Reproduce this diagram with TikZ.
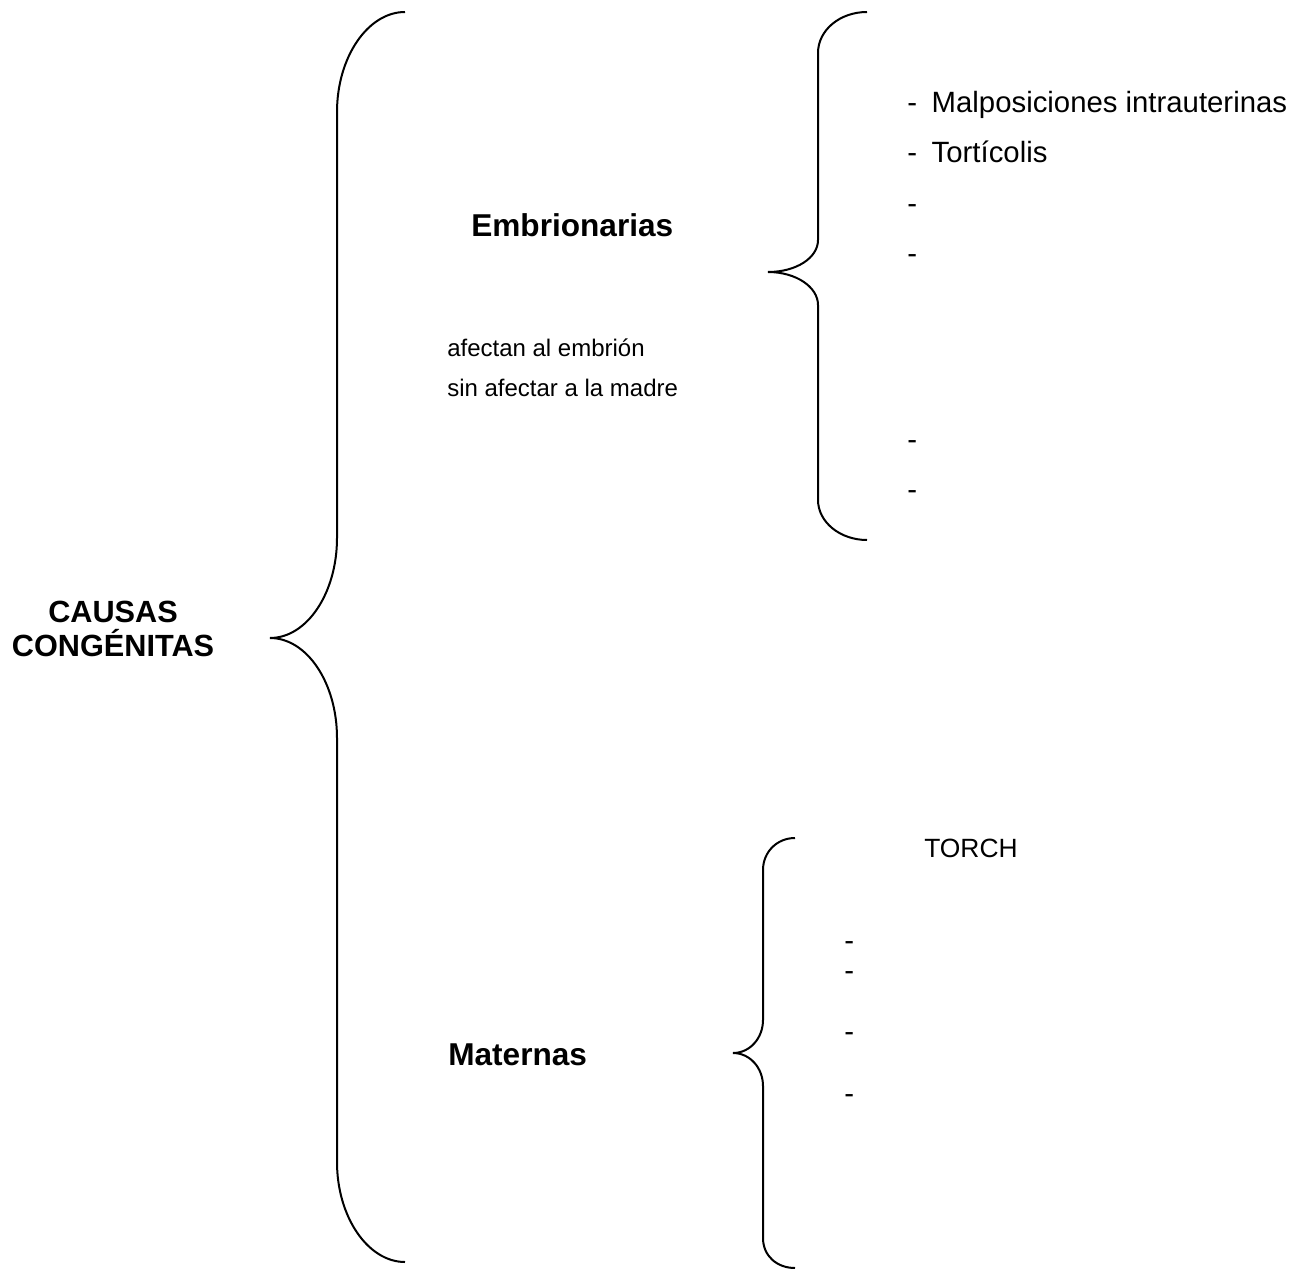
\documentclass[tikz,border=0pt]{standalone}
\usepackage{fontspec}
\setmainfont{Liberation Sans}
\usetikzlibrary{positioning}

\begin{document}
\begin{tikzpicture}[
      x=0.75pt, y=-0.75pt,
      llave/.style={line width=1.5pt},
      raiz/.style={anchor=base, inner sep=0pt, align=center, font=\fontsize{23}{25.5}\selectfont\bfseries},
      titulo/.style={anchor=base west, inner sep=0pt, font=\fontsize{23.7}{28}\selectfont\bfseries},
      item/.style={anchor=base west, inner sep=0pt, font=\fontsize{22}{26}\selectfont},
      nota/.style={anchor=base west, inner sep=0pt, align=left, font=\fontsize{18}{30}\selectfont},
      sigla/.style={anchor=base west, inner sep=0pt, font=\fontsize{19.8}{23}\selectfont}
    ]
    \useasboundingbox (0,0) rectangle (1302,1269);

    % llaves
    \draw[llave] (405,12) .. controls (368,12) and (337,57) .. (337,112) -- (337,538)
      .. controls (337,593) and (307,638) .. (270,638)
      .. controls (307,638) and (337,683) .. (337,738) -- (337,1162)
      .. controls (337,1217) and (368,1262) .. (405,1262);
    \draw[llave] (867,12) .. controls (840,12) and (818,30) .. (818,53) -- (818,240)
      .. controls (818,258) and (796,272) .. (768,272)
      .. controls (796,272) and (818,287) .. (818,305) -- (818,500)
      .. controls (818,522) and (840,540) .. (867,540);
    \draw[llave] (795,838) .. controls (777,838) and (763,852) .. (763,870) -- (763,1020)
      .. controls (763,1038) and (750,1053) .. (733,1053)
      .. controls (750,1053) and (763,1068) .. (763,1086) -- (763,1238)
      .. controls (763,1256) and (777,1268) .. (795,1268);

    \node[raiz] (causas) at (113,656) {CAUSAS\\CONGÉNITAS};

    \node[titulo] (embrio) at (471,237) {Embrionarias};
    \node[nota] (afecta) at (447,397) {afectan al embrión\\sin afectar a la madre};

    \node[item] (malpos) at (907,113) {-\hspace{11pt}Malposiciones intrauterinas};
    \node[item] (tortic) at (907,163) {-\hspace{11pt}Tortícolis};
    \node[item] (g1) at (907,214) {-};
    \node[item] (g2) at (907,264) {-};
    \node[item] (g3) at (907,449) {-};
    \node[item] (g4) at (907,499) {-};

    \node[titulo] (matern) at (448,1065) {Maternas};
    \node[sigla] (torch) at (924,857) {TORCH};
    \node[item] (m1) at (844,950) {-};
    \node[item] (m2) at (844,980) {-};
    \node[item] (m3) at (844,1041) {-};
    \node[item] (m4) at (844,1103) {-};
  \end{tikzpicture}
\end{document}
